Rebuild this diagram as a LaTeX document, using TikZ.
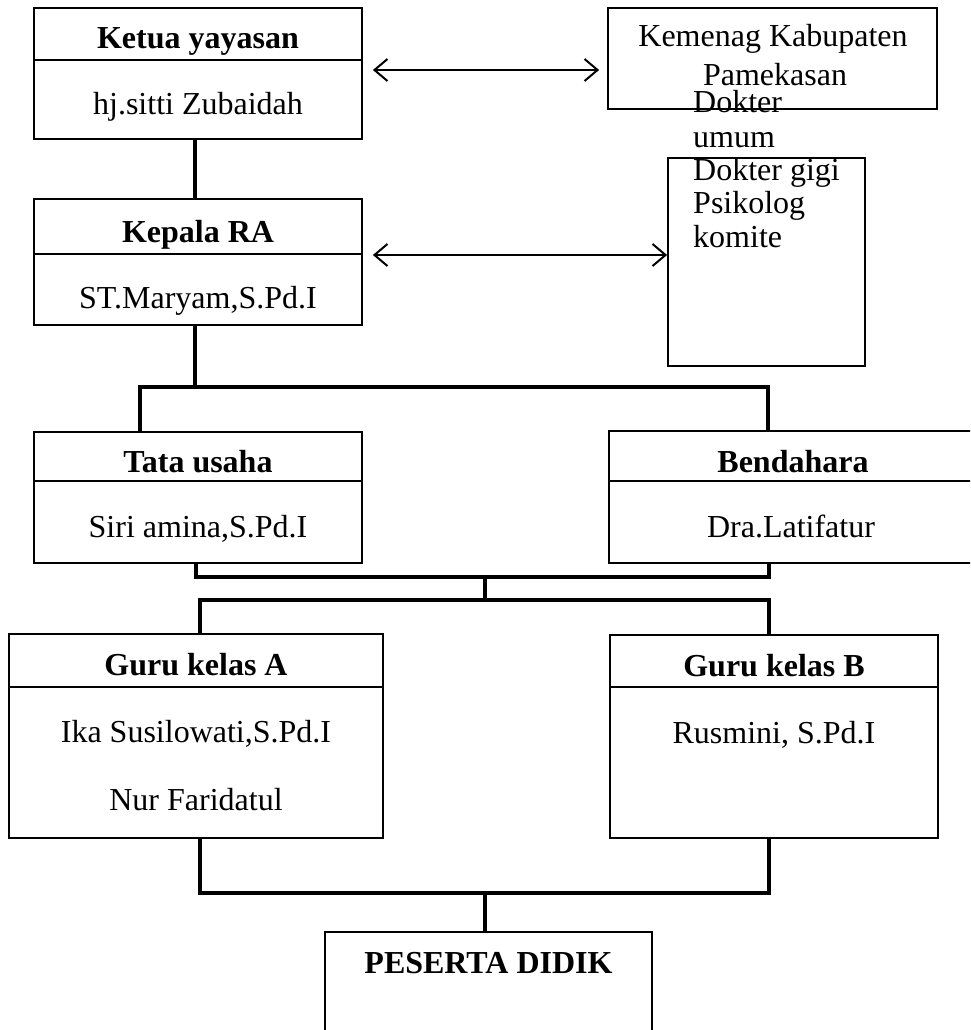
\documentclass[tikz,border=0pt]{standalone}
\usepackage{fontspec}
\setmainfont{Liberation Serif}
\usetikzlibrary{arrows.meta}
\tikzset{
  box/.style={draw, line width=1.8pt, rectangle, inner sep=0pt},
  divider/.style={line width=1.6pt},
  conn/.style={line width=3.6pt, line cap=rect},
  biarrow/.style={line width=2pt, {Straight Barb[length=13pt,width=22pt,line width=2pt]}-{Straight Barb[length=13pt,width=22pt,line width=2pt]}},
  title/.style={font=\fontsize{32}{38}\selectfont\bfseries, inner sep=0pt, anchor=base},
  txt/.style={font=\fontsize{32}{38}\selectfont, inner sep=0pt, anchor=base},
  ltxt/.style={font=\fontsize{32}{38}\selectfont, inner sep=0pt, anchor=base west}
}
\begin{document}
\begin{tikzpicture}[x=1pt,y=-1pt]
\useasboundingbox (0,0) rectangle (970,1030);
\clip (0,0) rectangle (970,1030);
\fill[white] (0,0) rectangle (970,1030);

% boxes
\node[box, minimum width=328pt, minimum height=131pt] (ketua) at (198,73.5) {};
\node[box, minimum width=328pt, minimum height=126pt] (kepala) at (198,262) {};
\node[box, minimum width=328pt, minimum height=131pt] (tata) at (198,497.5) {};
\node[box, minimum width=369pt, minimum height=132pt] (benda) at (793.5,497) {};
\node[box, minimum width=374pt, minimum height=204pt] (guruA) at (196,736) {};
\node[box, minimum width=328pt, minimum height=203pt] (guruB) at (774,736.5) {};
\node[box, minimum width=327pt, minimum height=120pt] (peserta) at (488.5,992) {};
\node[box, minimum width=329pt, minimum height=101pt] (kemenag) at (772.5,58.5) {};
\node[box, minimum width=197pt, minimum height=208pt] (dokter) at (766.5,262) {};

% dividers
\draw[divider] (ketua.west |- 0,60) -- (ketua.east |- 0,60);
\draw[divider] (kepala.west |- 0,254) -- (kepala.east |- 0,254);
\draw[divider] (tata.west |- 0,481) -- (tata.east |- 0,481);
\draw[divider] (benda.west |- 0,481) -- (benda.east |- 0,481);
\draw[divider] (guruA.west |- 0,687) -- (guruA.east |- 0,687);
\draw[divider] (guruB.west |- 0,687) -- (guruB.east |- 0,687);

% texts
\node[title] (tKetua) at (198,49) {Ketua yayasan};
\node[txt] (nKetua) at (198,115) {hj.sitti Zubaidah};
\node[title] (tKepala) at (198,242) {Kepala RA};
\node[txt] (nKepala) at (198,308) {ST.Maryam,S.Pd.I};
\node[title] (tTata) at (198,472) {Tata usaha};
\node[txt] (nTata) at (198,537) {Siri amina,S.Pd.I};
\node[title] (tBenda) at (793,472) {Bendahara};
\node[txt] (nBenda) at (791,537) {Dra.Latifatur};
\node[title] (tGuruA) at (196,675) {Guru kelas A};
\node[txt] (nGuruA1) at (196,742) {Ika Susilowati,S.Pd.I};
\node[txt] (nGuruA2) at (196,810) {Nur Faridatul};
\node[title] (tGuruB) at (774,676) {Guru kelas B};
\node[txt] (nGuruB) at (774,743) {Rusmini, S.Pd.I};
\node[title] (tPeserta) at (488.5,973) {PESERTA DIDIK};
\node[txt] (kem1) at (773,47) {Kemenag Kabupaten};
\node[txt] (kem2) at (775,86) {Pamekasan};
\node[ltxt] (d1) at (693,113) {Dokter};
\node[ltxt] (d2) at (693,147) {umum};
\node[ltxt] (d3) at (693,180) {Dokter gigi};
\node[ltxt] (d4) at (693,213) {Psikolog};
\node[ltxt] (d5) at (693,247) {komite};

% connector coordinates
\coordinate (a1) at (195,387);
\coordinate (hL) at (140,387);
\coordinate (hR) at (768,387);
\coordinate (m1L) at (196,577);
\coordinate (m1R) at (769,577);
\coordinate (j2) at (485,577);
\coordinate (j3) at (485,600);
\coordinate (g1L) at (200,600);
\coordinate (g1R) at (769,600);
\coordinate (b1L) at (200,893);
\coordinate (b1R) at (769,893);
\coordinate (j4) at (485,893);

% connectors
\draw[conn] (ketua.south -| a1) -- (kepala.north -| a1);
\draw[conn] (kepala.south -| a1) -- (a1);
\draw[conn] (tata.north -| hL) -- (hL) -- (hR) -- (benda.north -| hR);
\draw[conn] (tata.south -| m1L) -- (m1L) -- (m1R) -- (benda.south -| m1R);
\draw[conn] (j2) -- (j3);
\draw[conn] (guruA.north -| g1L) -- (g1L) -- (g1R) -- (guruB.north -| g1R);
\draw[conn] (guruA.south -| b1L) -- (b1L) -- (b1R) -- (guruB.south -| b1R);
\draw[conn] (j4) -- (peserta.north -| j4);

% arrows
\draw[biarrow] ([xshift=10pt,yshift=3.5pt]ketua.east) -- ([xshift=-8pt,yshift=-11.5pt]kemenag.west);
\draw[biarrow] ([xshift=10pt,yshift=7pt]kepala.east) -- ([yshift=7pt]dokter.west);
\end{tikzpicture}
\end{document}
